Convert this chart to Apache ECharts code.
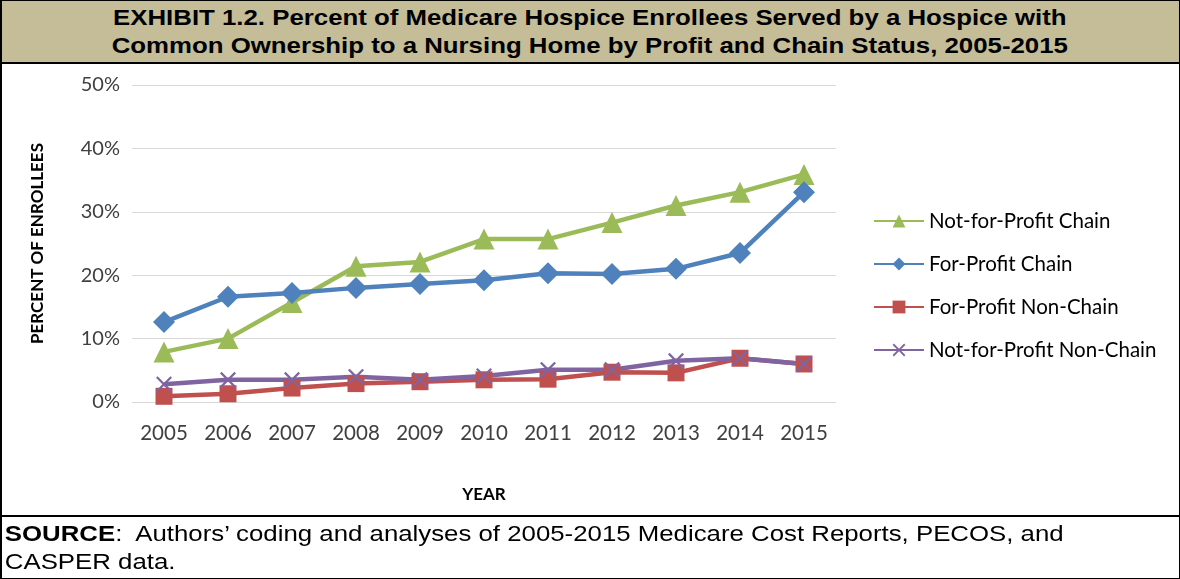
<!DOCTYPE html>
<html>
<head>
<meta charset="utf-8">
<script src="https://cdn.jsdelivr.net/npm/echarts@6/dist/echarts.min.js"></script>
<style>
  html, body { margin: 0; padding: 0; background: #fff; }
  body { width: 1180px; height: 579px; position: relative; overflow: hidden; }
  #chart { position: absolute; left: 0; top: 0; width: 1180px; height: 579px; }
  #frame { position: absolute; left: 0; top: 0; width: 1180px; height: 579px;
           border: 1px solid #000; border-left-width: 2px; box-sizing: border-box; pointer-events: none; }
  #title { position: absolute; left: 0; top: 0; width: 1180px; height: 64px;
           background: #c4bd97; border-bottom: 2px solid #000; box-sizing: border-box; overflow: hidden; }
  #title .txt { width: 983px; transform: scaleX(1.2); transform-origin: 0 0;
                font-family: "Liberation Sans", Arial, sans-serif; font-weight: bold; font-size: 21.5px;
                line-height: 28px; text-align: center; color: #000; padding-top: 4px; }
  #source { position: absolute; left: 0; top: 515px; width: 1180px; height: 64px;
            border-top: 2px solid #000; box-sizing: border-box; overflow: hidden; }
  #source .txt { width: 980px; transform: scaleX(1.2); transform-origin: 0 0;
                 font-family: "Liberation Sans", Arial, sans-serif; font-size: 21.5px; line-height: 28px;
                 color: #000; padding: 3px 0 0 4px; }
</style>
</head>
<body>
<div id="chart"></div>
<div id="title"><div class="txt">EXHIBIT 1.2. Percent of Medicare Hospice Enrollees Served by a Hospice with<br>Common Ownership to a Nursing Home by Profit and Chain Status, 2005-2015</div></div>
<div id="source"><div class="txt"><b>SOURCE</b>:&nbsp; Authors’ coding and analyses of 2005-2015 Medicare Cost Reports, PECOS, and<br>CASPER data.</div></div>
<div id="frame"></div>
<script>
// Survey years
const years = ['2005', '2006', '2007', '2008', '2009', '2010', '2011', '2012', '2013', '2014', '2015'];

// Percent of enrollees, by profit and chain status
const nfpChain    = [7.9, 10.0, 15.7, 21.4, 22.1, 25.7, 25.7, 28.3, 31.0, 33.1, 35.9];
const fpChain     = [12.6, 16.6, 17.2, 18.0, 18.6, 19.2, 20.3, 20.2, 21.0, 23.5, 33.1];
const fpNonChain  = [0.9, 1.3, 2.2, 2.9, 3.2, 3.5, 3.6, 4.7, 4.6, 6.9, 6.0];
const nfpNonChain = [2.8, 3.5, 3.5, 4.0, 3.5, 4.1, 5.1, 5.1, 6.5, 6.9, 6.0];

const seriesNames = ['Not-for-Profit Chain', 'For-Profit Chain', 'For-Profit Non-Chain', 'Not-for-Profit Non-Chain'];

const FONT = 'Lato, "Open Sans", sans-serif';
const crossPath = 'path://M0,1L1,0L5,4L9,0L10,1L6,5L10,9L9,10L5,6L1,10L0,9L4,5Z';

function lineSeries(name, data, color, symbol, size) {
  return {
    name: name, type: 'line', data: data,
    symbol: symbol, symbolSize: size, showSymbol: true,
    lineStyle: { color: color, width: 4.5 },
    itemStyle: { color: color },
    emphasis: { disabled: true },
    animation: false
  };
}

const chart = echarts.init(document.getElementById('chart'), null, { renderer: 'canvas' });
chart.setOption({
  backgroundColor: 'transparent',
  textStyle: { fontFamily: FONT },
  grid: { left: 132, right: 344, top: 85, bottom: 177, containLabel: false },
  legend: {
    orient: 'vertical', left: 868, top: 205,
    itemWidth: 50, itemHeight: 16, itemGap: 21,
    data: seriesNames,
    textStyle: { fontFamily: FONT, fontSize: 20.5, color: '#000', lineHeight: 22 },
    selectedMode: false
  },
  xAxis: {
    type: 'category', data: years, boundaryGap: true,
    name: 'YEAR', nameLocation: 'middle', nameGap: 84,
    nameTextStyle: { fontFamily: FONT, fontSize: 17, fontWeight: 'bold', color: '#000' },
    axisLine: { show: true, lineStyle: { color: '#d9d9d9', width: 1 } },
    axisTick: { show: false },
    axisLabel: { margin: 21, fontFamily: FONT, fontSize: 20.5, color: '#404040' }
  },
  yAxis: {
    type: 'value', min: 0, max: 50, interval: 10,
    name: 'PERCENT OF ENROLLEES', nameLocation: 'middle', nameGap: 86, nameRotate: 90,
    nameTextStyle: { fontFamily: FONT, fontSize: 17, fontWeight: 'bold', color: '#000' },
    axisLine: { show: false }, axisTick: { show: false },
    axisLabel: { margin: 12, fontFamily: FONT, fontSize: 20, color: '#404040', formatter: '{value}%' },
    splitLine: { lineStyle: { color: '#d9d9d9', width: 1 } }
  },
  series: [
    lineSeries(seriesNames[0], nfpChain, '#9bbb59', 'triangle', 21),
    lineSeries(seriesNames[1], fpChain, '#4f81bd', 'diamond', 22),
    lineSeries(seriesNames[2], fpNonChain, '#c0504d', 'rect', 17),
    lineSeries(seriesNames[3], nfpNonChain, '#8064a2', crossPath, 16)
  ]
});
</script>
</body>
</html>
